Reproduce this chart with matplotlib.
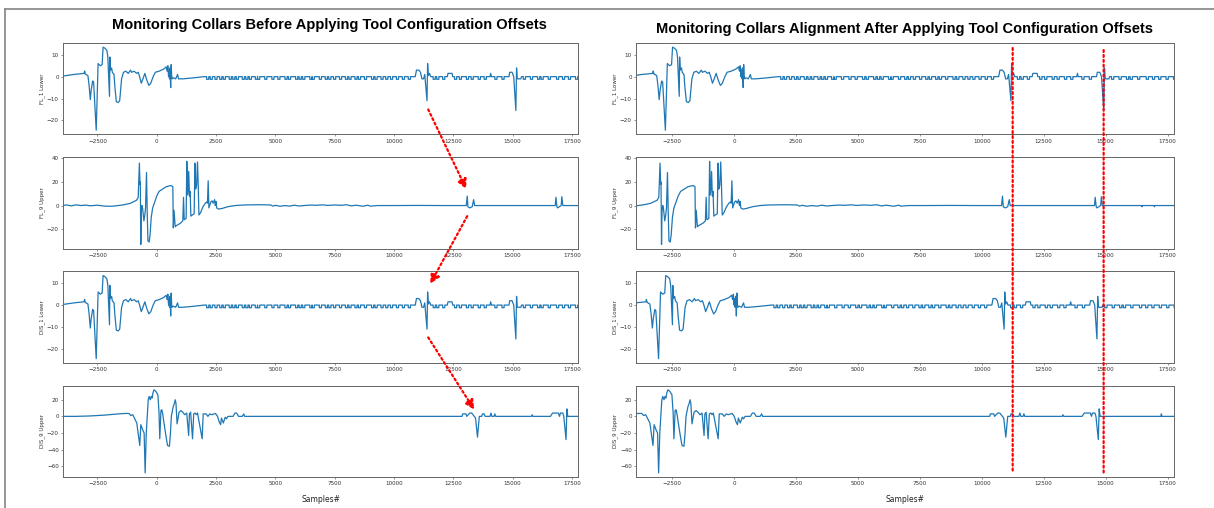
import matplotlib
matplotlib.use("Agg")
import matplotlib.pyplot as plt
from matplotlib.patches import ConnectionPatch
from matplotlib.lines import Line2D
from matplotlib.ticker import MultipleLocator

# Readings of the collar signals before the offsets (sample #, value)
FL1_X = [-4000, -3500, -3060, -3040, -3010, -2900, -2850, -2800, -2760, -2700, -2660, -2600, -2550,
         -2510, -2470, -2380, -2300, -2260, -2180, -2100, -2060, -1990, -1975, -1950, -1900, -1870,
         -1800, -1760, -1700, -1620, -1560, -1480, -1400, -1300, -1200, -1100, -1060, -950, -850,
         -780, -720, -650, -580, -500, -420, -330, -250, -150, -60, 100, 300, 400, 440, 470, 500,
         520, 540, 560, 590, 610, 630, 650, 700, 800, 880, 920, 1100, 1500, 2000,
         10900, 10950, 11050, 11120, 11180, 11250, 11300, 11395, 11420, 11450, 11500, 11550,
         12250, 12280, 12450, 12480, 14050, 14080, 14110, 14850, 14880, 14980, 15050, 15140,
         15170, 15200, 15350, 15380, 20400]
FL1_Y = [0.2, 1.0, 1.5, 2.6, 1.2, 0.5, -4, -10.5, -6, -2, -2.5, -15, -24.5,
         -10, 6, 5, 5.5, 13.5, 13, 12, 9, -9, 9, 3, 4, 2,
         1, -5, -11.5, -11.8, -11, -1, 2, 2.5, 1.5, 3, 2, 2.5, 1.5,
         2, 0, -3, -1, 1.5, -1.5, -4, -3, 0, 2, 2.5, 3.5, 4.5, 2.5, 5, 0,
         3, -1, 4, -5, 5.5, 0.5, -1, -0.5, -1, 1, -1, -1, -0.6, 0,
         0, 3, 3, 2, -1, -1, 1, -11, 6, 0.5, 1.5, 0,
         0, 1.5, 1.5, 0, 0, 1.5, 0, 0, 2, 2, 0, -15.5,
         4, -1, -1, 0, 0]
FL1_DIPS = [2150, 2300, 2500, 2700, 2850, 3100, 3250, 3400, 3650, 3800, 3950, 4200, 4300, 4600,
            4900, 5150, 5450, 5600, 5900, 6050, 6200, 6500, 6600, 6900, 7150, 7300, 7500, 7750,
            8000, 8150, 8400, 8550, 8800, 9100, 9250, 9500, 9700, 9900, 10150, 10400, 10650,
            11700, 11850, 12100, 12600, 12800, 13100, 13300, 13600, 13850, 14300, 14600, 15500,
            15800, 16100, 16250, 16550, 16900, 17150, 17400, 17700, 18000, 18300]

# DIS_1 Lower reads the same as FL_1 Lower
DIS1_X = FL1_X
DIS1_Y = FL1_Y
DIS1_DIPS = FL1_DIPS

FL9_X = [-4000, -3800, -3600, -3400, -3200, -3000, -2800, -2500, -2200, -1900, -1700, -1500, -1300,
         -1100, -950, -850, -780, -730, -705, -690, -670, -650, -620, -590, -540, -500, -470,
         -430, -400, -370, -320, -280, -230, -170, -100, 0, 100, 250, 400, 600, 680, 700, 730,
         780, 830, 1000, 1100, 1130, 1160, 1240, 1270, 1300, 1320, 1350, 1380, 1410, 1440, 1500,
         1580, 1610, 1640, 1680, 1720, 1750, 1780, 1850, 1950, 2050, 2100, 2140, 2170, 2200,
         2280, 2330, 2380, 2440, 2470, 2500, 2530, 2600, 2750, 3000, 3300, 3700, 4300, 4800,
         4900, 5000, 5200, 5400, 5600, 5800, 6000, 6200, 6500, 6700, 7000, 7200, 7500, 7800,
         8000, 8200, 8400, 8700, 8900, 9000, 9300, 10000, 11000, 12000, 13050, 13090, 13120,
         13200, 13300, 13360, 13400, 16800, 16830, 16870, 16900, 17050, 17080, 17120, 18700,
         18720, 18740, 19200, 19220, 19240, 20400]
FL9_Y = [0, 0.5, -0.3, 0.6, 0, 0.4, -0.2, 0.3, -0.5, -0.6, -0.2, 0.3, 1,
         2, 3.5, 4.5, 7, 36, 18, 20, -33, -5, 0, -3, -13, -8, -2,
         28, -5, -30, -31, -25, -10, -2, 2, 8, 12, 14, 16, 17, 16, -19, -4,
         -18, -17, -15, -13, 7, -12, -11, 37.5, 9, 13, 29, 8, 12, -9, -8,
         -7, 36, 14, 17, 37, 17, -8, -6, -1, 2, 3, 2, 21, -2,
         3, 4, 2, 5, 0, 3.5, -2, -3, -2.5, -1, 0, 0.5, 0.7, 0.5,
         -0.5, 0.2, -0.6, 0, -0.5, 0.3, -0.4, 0, 0.4, 0.2, 0.6, 0.1, 0.5, 0.2,
         0.7, -0.3, 0.3, -0.6, 0.3, -0.5, 0, 0, 0.1, 0, 0, 8, -1,
         -2, -1, 5, 0, 0, 7, -1, -2, 0, 7.5, 0, 0,
         -1, 0, 0, -1, 0, 0]

DIS9_X = [-4000, -3400, -2800, -2200, -1600, -1330, -1170, -1090, -1010, -925, -840, -714, -670,
          -580, -530, -487, -440, -357, -320, -270, -230, -195, -160, -114, -32, 49, 97, 130,
          179, 215, 260, 292, 370, 455, 536, 580, 617, 698, 740, 779, 812, 860, 942, 1023, 1100,
          1180, 1266, 1347, 1380, 1430, 1510, 1560, 1623, 1670, 1720, 1916, 1960, 2080, 2160,
          2240, 2320, 2480, 2565, 2640, 2695, 2730, 2808, 2890, 2940, 3003, 3220, 3295, 3370,
          3450, 3610, 3669, 3710, 12873, 12900, 13036, 13070, 13198, 13280, 13440, 13523, 13600,
          13700, 13734, 13800, 13850, 14050, 14090, 14130, 14220, 14253, 14290, 15800, 15828,
          15860, 16600, 16688, 16932, 16980, 17020, 17120, 17160, 17256, 17290, 17330, 19780,
          19800, 19820, 20400]
DIS9_Y = [0, 0, 0.5, 1.5, 3, 3.5, 3.5, 1, 2, -3, -8, -35, -10,
          -17, -20, -68, -20, 20, 24, 20, 24, 22, 28, 32, 30, 26, 5, -27,
          7, 8, 2, -5, -20, -35, -36, -20, 0, 12, 15, 20, 16, -9, 5, 7, 5,
          2, 4, -23, 3, 5, -27, 3, 4, 2, 4, -27, 3, 3, 0,
          3, 2, 3.5, 0, -7, -10, -2, -8, -1, -3, 0, 0, 4, 4,
          0, 0, 3, 0, 0, 3, 3, 0, 4, 4, -2, -25, 0,
          0, 3, 3, 0, 0, 4, 0, 0, 3, 0, 0, 2,
          0, 0, 4, 4, 0, 4, 4, 0, -28, 9, 0, 0,
          3, 0, 0]

LABELS = ["FL_1 Lower", "FL_9 Upper", "DIS_1 Lower", "DIS_9 Upper"]
Y_STEPS = [10, 20, 10, 20]
# sample shift of each collar once the tool configuration offsets are applied
OFFSETS = [-215, -2250, -490, -2550]
X_TICKS = [-2500, 0, 2500, 5000, 7500, 10000, 12500, 15000, 17500]
RED_LINE_X = [11250, 14920]

TITLE_LEFT = "Monitoring Collars Before Applying Tool Configuration Offsets"
TITLE_RIGHT = "Monitoring Collars Alignment After Applying Tool Configuration Offsets"


def add_dips(xs, ys, dips, depth=1.2, half=45):
    pts = list(zip(xs, ys))
    for c in dips:
        pts += [(c - half, 0), (c - half, -depth), (c + half, -depth), (c + half, 0)]
    pts.sort(key=lambda p: p[0])
    return [p[0] for p in pts], [p[1] for p in pts]


signals = [
    add_dips(FL1_X, FL1_Y, FL1_DIPS),
    (FL9_X, FL9_Y),
    add_dips(DIS1_X, DIS1_Y, DIS1_DIPS),
    (DIS9_X, DIS9_Y),
]

W, H = 1214, 508
fig = plt.figure(figsize=(W / 100, H / 100), dpi=100)
fig.patch.set_facecolor("white")

SPINE = "#666666"
RED_DOTS = (0, (0.9, 1.3))


def make_column(left, right):
    gs = fig.add_gridspec(4, 1, left=left / W, right=right / W, top=1 - 43 / H,
                          bottom=1 - 477 / H, hspace=0.25)
    axes = []
    for i in range(4):
        ax = fig.add_subplot(gs[i])
        ax.set_xlim(-3950, 17760)
        ax.set_xticks(X_TICKS)
        ax.yaxis.set_major_locator(MultipleLocator(Y_STEPS[i]))
        ax.set_ylabel(LABELS[i], fontsize=4.0, labelpad=1.5, color="#333333")
        ax.tick_params(labelsize=4.1, length=1.6, width=0.5, pad=1.5,
                       colors=SPINE, labelcolor="#333333")
        for s in ax.spines.values():
            s.set_color(SPINE)
            s.set_linewidth(0.7)
        axes.append(ax)
    axes[-1].set_xlabel("Samples#", fontsize=5.5, labelpad=6, color="#222222")
    return axes


left_axes = make_column(63, 578)
right_axes = make_column(636, 1174)

for i in range(4):
    xs, ys = signals[i]
    left_axes[i].plot(xs, ys, color="#1f77b4", lw=0.9)
    right_axes[i].plot([x + OFFSETS[i] for x in xs], ys, color="#1f77b4", lw=0.9)

fig.text(329 / W, 1 - 25 / H, TITLE_LEFT, ha="center", va="center",
         fontsize=10.5, fontweight="bold", family="Liberation Sans")
fig.text(905 / W, 1 - 29 / H, TITLE_RIGHT, ha="center", va="center",
         fontsize=10.5, fontweight="bold", family="Liberation Sans")

# red dotted arrows linking the same event between collars (left column)
arrows = [
    (0, (11445, -15), 1, (13050, 14)),
    (1, (13090, -9), 2, (11530, 9.7)),
    (2, (11445, -14.8), 3, (13390, 8)),
]
for ia, pa, ib, pb in arrows:
    con = ConnectionPatch(xyA=pa, coordsA="data", axesA=left_axes[ia],
                          xyB=pb, coordsB="data", axesB=left_axes[ib],
                          arrowstyle="-|>", mutation_scale=14, color="red",
                          lw=1.6, linestyle=RED_DOTS, shrinkA=0, shrinkB=0)
    fig.add_artist(con)

# red dotted verticals marking the aligned events (right column)
tops = [0.945, 0.923]
for x, top in zip(RED_LINE_X, tops):
    con = ConnectionPatch(xyA=(x, top), coordsA=right_axes[0].get_xaxis_transform(),
                          xyB=(x, 0.043), coordsB=right_axes[3].get_xaxis_transform(),
                          color="red", lw=1.6, linestyle=RED_DOTS)
    fig.add_artist(con)

# screenshot frame lines
fig.add_artist(Line2D([4.5 / W, 1], [1 - 9 / H, 1 - 9 / H], transform=fig.transFigure,
                      color="#8c8c8c", lw=1.3))
fig.add_artist(Line2D([4.5 / W, 4.5 / W], [0, 1 - 9 / H], transform=fig.transFigure,
                      color="#8c8c8c", lw=1.3))

fig.savefig("out.png", dpi=100)
